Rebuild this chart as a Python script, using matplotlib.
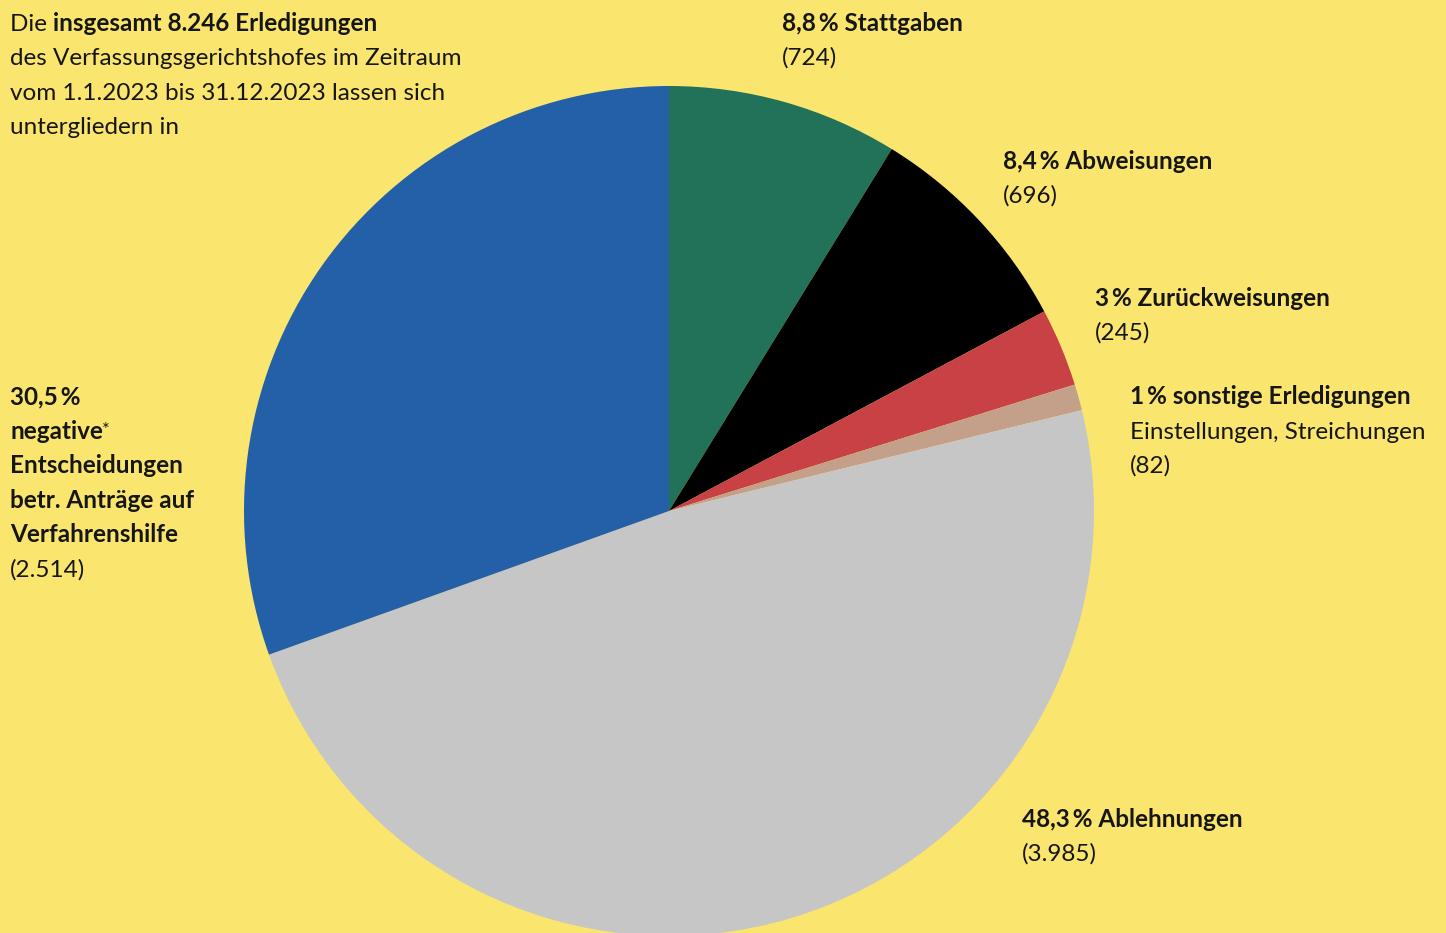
import matplotlib
matplotlib.use("Agg")
import matplotlib.pyplot as plt

W, H = 1446, 933
BG = "#fae66e"
INK = "#161616"

# data (clockwise from 12 o'clock)
categories = ["Stattgaben", "Abweisungen", "Zurückweisungen", "sonstige Erledigungen",
              "Ablehnungen", "negative Entscheidungen betr. Anträge auf Verfahrenshilfe"]
counts = [724, 696, 245, 82, 3985, 2514]
shares = ["8,8", "8,4", "3", "1", "48,3", "30,5"]
colors = ["#22725a", "#000000", "#c84245", "#c4a08a", "#c6c6c6", "#2360a8"]

plt.rcParams["font.family"] = ["Lato", "DejaVu Sans"]
FS = 17.5

fig = plt.figure(figsize=(W / 100, H / 100), dpi=100, facecolor=BG)
ax = fig.add_axes([0, 0, 1, 1])

ax.pie(counts, colors=colors, startangle=90, counterclock=False,
       center=(669, H - 511), radius=425, frame=True,
       wedgeprops=dict(linewidth=0))
ax.set_xlim(0, W)
ax.set_ylim(0, H)
ax.set_aspect("equal")
ax.axis("off")


def fmt_num(n):
    return f"{n:,}".replace(",", ".")


def lines(x, baselines, items):
    # items: list of (text, weight)
    out = []
    for yb, (txt, wt) in zip(baselines, items):
        out.append(ax.text(x, H - yb, txt, fontsize=FS, fontweight=wt, color=INK,
                           ha="left", va="baseline"))
    return out


# intro text
t = ax.text(10, H - 31, "Die ", fontsize=FS, color=INK, ha="left", va="baseline")
ax.annotate("insgesamt " + fmt_num(sum(counts)) + " Erledigungen", xy=(1, 0), xycoords=t,
            fontsize=FS, fontweight="bold", color=INK, ha="left", va="bottom")
lines(10, [65, 100, 134], [("des Verfassungsgerichtshofes im Zeitraum", "normal"),
                           ("vom 1.1.2023 bis 31.12.2023 lassen sich", "normal"),
                           ("untergliedern in", "normal")])

thin = "\u2009"
lines(782, [31, 65], [(f"{shares[0]}{thin}% {categories[0]}", "bold"),
                      (f"({fmt_num(counts[0])})", "normal")])
lines(1003, [169, 203], [(f"{shares[1]}{thin}% {categories[1]}", "bold"),
                         (f"({fmt_num(counts[1])})", "normal")])
lines(1095, [306, 340], [(f"{shares[2]}{thin}% {categories[2]}", "bold"),
                         (f"({fmt_num(counts[2])})", "normal")])
lines(1130, [404, 439, 473], [(f"{shares[3]}{thin}% {categories[3]}", "bold"),
                              ("Einstellungen, Streichungen", "normal"),
                              (f"({fmt_num(counts[3])})", "normal")])
lines(1022, [827, 861], [(f"{shares[4]}{thin}% {categories[4]}", "bold"),
                         (f"({fmt_num(counts[4])})", "normal")])

left = lines(10, [404, 439, 473, 508, 542, 577],
             [(f"{shares[5]}{thin}%", "bold"),
              ("negative", "bold"),
              ("Entscheidungen", "bold"),
              ("betr. Anträge auf", "bold"),
              ("Verfahrenshilfe", "bold"),
              (f"({fmt_num(counts[5])})", "normal")])
ax.annotate("*", xy=(1, 1), xycoords=left[1], fontsize=FS * 0.75, color=INK,
            ha="left", va="top", xytext=(-1, -1.5), textcoords="offset points")

fig.savefig("out.png", dpi=100, facecolor=BG)
